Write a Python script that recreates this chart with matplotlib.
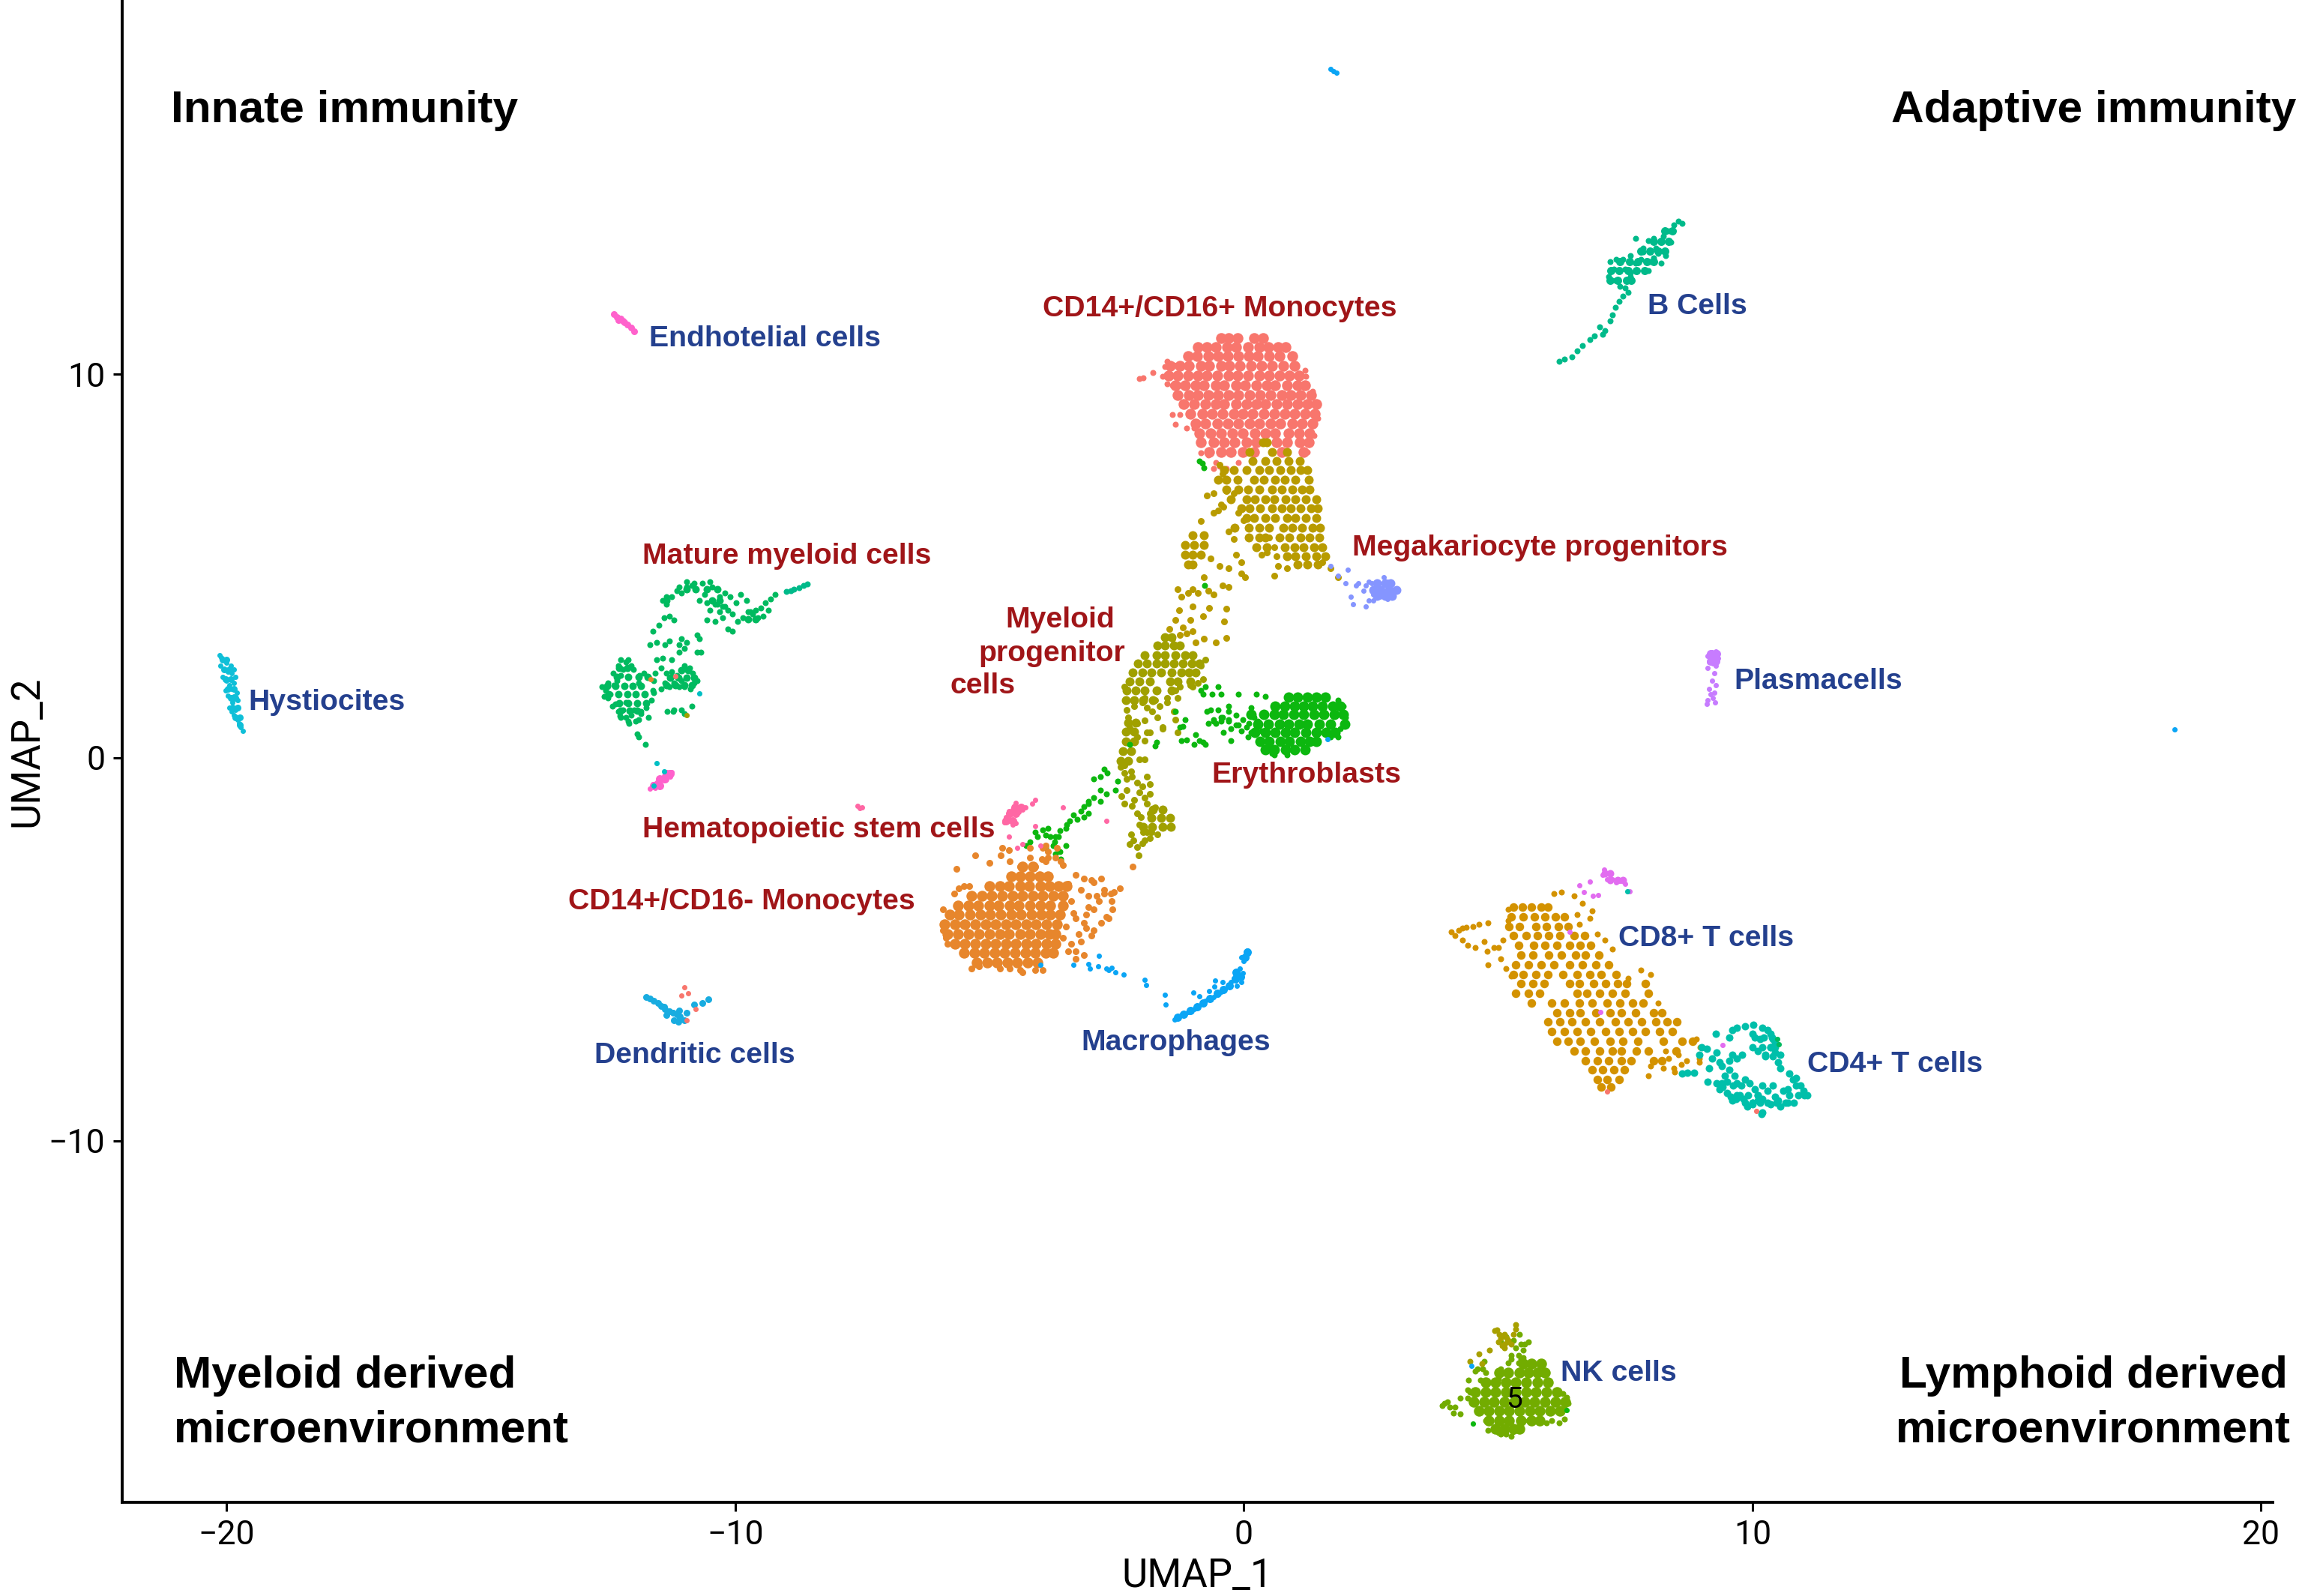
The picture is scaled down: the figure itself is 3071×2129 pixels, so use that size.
import matplotlib
matplotlib.use('Agg')
import matplotlib.pyplot as plt

plt.rcParams['font.family'] = ['Liberation Sans', 'DejaVu Sans']

# Cells, UMAP units.
# *_rows = packed part of a cluster, one (y, [x, x, ...]) per strip; *_x/*_y = the single loose cells.
mono16_rows = [
    (10.95, [-0.45,-0.3,-0.12,0.2,0.38]),
    (10.72, [-0.9,-0.72,-0.55,-0.33,-0.15,0.08,0.3,0.48,0.68,0.82]),
    (10.48, [-1.1,-0.92,-0.7,-0.5,-0.32,-0.1,0.1,0.28,0.5,0.7,0.95]),
    (10.22, [-1.45,-1.25,-1.08,-0.85,-0.68,-0.45,-0.28,-0.08,0.14,0.35,0.55,0.78,1.0]),
    (9.97, [-1.48,-1.3,-1.1,-0.9,-0.72,-0.52,-0.3,-0.12,0.08,0.3,0.5,0.7,0.9,1.08]),
    (9.72, [-1.35,-1.15,-0.95,-0.78,-0.55,-0.38,-0.15,0.02,0.25,0.45,0.62,0.85,1.05,1.2]),
    (9.47, [-1.3,-1.08,-0.9,-0.7,-0.5,-0.3,-0.1,0.12,0.32,0.52,0.75,0.92,1.12,1.32]),
    (9.22, [-1.18,-0.98,-0.75,-0.55,-0.38,-0.15,0.05,0.25,0.42,0.65,0.85,1.05,1.25,1.42]),
    (8.97, [-1.05,-0.82,-0.62,-0.42,-0.2,-0.02,0.18,0.4,0.6,0.8,1.0,1.2,1.4]),
    (8.72, [-0.95,-0.75,-0.52,-0.32,-0.1,0.12,0.3,0.52,0.72,0.95,1.15,1.35]),
    (8.47, [-0.88,-0.65,-0.45,-0.22,-0.02,0.22,0.42,0.62,0.88,1.08,1.3]),
    (8.22, [-0.85,-0.6,-0.38,-0.18,0.05,0.25,0.65,0.85,1.1,1.28]),
    (7.97, [-0.68,-0.45,-0.25,-0.02,0.2,0.75,1.18]),
]
mono16_x = [-2.05,-1.98,-1.78,-1.6,-1.55,-1.5,-1.38,-1.5,-1.4,-1.25,-1.4,-1.25,-1.35,-1.12,-0.98,-0.85,-0.7,-0.55,-0.6,-0.48,-0.35,-0.1,1.2,1.22,1.35,1.43,1.45,1.38,1.25]
mono16_y = [9.9,9.92,10.05,9.95,10.2,10.35,10.25,9.75,9.72,9.72,8.95,8.95,8.7,8.6,8.6,7.95,7.9,7.7,7.55,7.6,7.55,7.7,10.1,9.95,9.55,9.2,8.85,8.4,7.98]

gold_rows = [
    (8.22, [0.38,0.46]),
    (7.98, [0.12,0.55,0.85]),
    (7.75, [0.18,0.42,0.65,0.88,1.1]),
    (7.5, [-0.38,-0.2,0.05,0.3,0.5,0.72,0.92,1.12,1.25]),
    (7.25, [-0.5,-0.35,-0.12,0.2,0.4,0.62,0.8,1.02,1.28]),
    (7.0, [-0.35,-0.1,0.08,0.3,0.55,0.75,0.95,1.15,1.3]),
    (6.75, [-0.25,0.05,0.22,0.42,0.6,0.82,1.02,1.22,1.42]),
    (6.5, [-0.05,0.12,0.32,0.55,0.75,0.92,1.12,1.32,1.45]),
    (6.25, [0.05,0.2,0.42,0.62,0.85,1.02,1.22,1.42]),
    (6.0, [-0.18,0.1,0.3,0.5,0.78,0.95,1.15,1.35,1.5]),
    (5.75, [0.1,0.3,0.42,0.7,0.9,1.12,1.3,1.48]),
    (5.5, [0.25,0.45,0.8,1.0,1.18,1.38,1.55]),
    (5.25, [0.85,1.02,1.22,1.42,1.6]),
    (5.05, [1.05,1.25,1.45]),
    (5.8, [-1.0,-0.78]),
    (5.55, [-1.15,-0.98,-0.78]),
    (5.3, [-1.15,-1.0,-0.85]),
    (5.05, [-1.1,-1.0]),
]
gold_x = [-0.48,-0.42,-0.2,-0.35,0.6,0.35,1.55,1.7,1.85,-0.73,-0.6,-0.45,-0.1,0.0,0.5,0.45,0.65,0.68,0.85,0.6,
    -0.85,-0.6,-0.5,-0.4,-0.3,-0.2,-0.15,-0.05,-0.78,-0.65,-0.48,-0.3,-0.05,0.02,
    -1.3,-1.22,-1.1,-1.0,-0.9,-0.7,-0.6,-0.42,-0.3,-0.35,-0.38,-1.0,-0.8,-0.68,-1.27,-1.35,-1.2,-1.05,
    -1.46,-1.4,-1.25,-1.12,-1.0,-0.95,-0.78,-0.55,-0.35]
gold_y = [7.65,7.4,6.9,6.95,5.5,5.3,5.1,4.95,4.7,6.85,6.9,6.6,6.4,6.2,5.75,5.35,5.25,5.0,4.95,4.75,
    6.18,6.4,6.45,6.55,5.9,5.7,5.3,5.1,4.7,5.2,5.0,4.95,4.8,4.7,
    4.4,4.2,4.3,4.4,4.3,4.35,4.25,4.5,4.45,3.88,3.55,3.95,3.7,3.9,3.85,3.6,3.4,3.6,
    3.35,3.1,3.2,3.25,3.3,3.0,3.1,3.0,3.12]

olive_rows = [
    (3.15, [-1.55,-1.42]),
    (2.92, [-1.7,-1.55,-1.38,-1.25]),
    (2.68, [-1.95,-1.72,-1.55,-1.35,-1.15,-1.0]),
    (2.45, [-2.08,-1.9,-1.72,-1.55,-1.38,-1.2,-1.02,-0.88]),
    (2.22, [-2.18,-2.0,-1.82,-1.62,-1.42,-1.22,-1.08,-0.95]),
    (1.98, [-2.25,-2.05,-1.85,-1.45,-1.3,-1.05]),
    (1.75, [-2.3,-2.12,-1.95,-1.72,-1.42]),
    (1.5, [-2.32,-2.15,-1.98,-1.78]),
    (0.92, [-2.28,-2.12]),
    (0.68, [-2.32,-2.15]),
    (0.42, [-2.32,-2.15]),
    (0.18, [-2.38,-2.22]),
    (-0.08, [-2.42,-2.28]),
    (-1.35, [-1.78,-1.6]),
    (-1.58, [-1.82,-1.62,-1.45]),
    (-1.8, [-1.98,-1.8,-1.6,-1.44]),
]
olive_x = [-2.35,-2.3,-2.28,-2.15,-2.0,-1.9,-1.8,-1.75,-1.95,-1.7,-1.65,-1.5,-1.95,-1.85,-1.6,
    -0.85,-0.8,-0.95,-0.9,-0.75,-1.0,-1.25,-1.35,-1.3,-1.05,-1.5,-1.38,-1.35,-1.6,-1.3,
    -2.25,-2.1,-2.1,-1.95,-1.9,-2.35,-2.42,-2.35,-2.3,-2.22,-2.05,-1.95,-1.9,-1.85,
    -2.2,-2.1,-2.05,-2.0,-1.95,-1.9,-1.85,-2.3,-2.4,-2.35,-2.15,-2.2,-2.1,-2.05,
    -2.03,-1.85,-1.75,-1.9,-1.82,-1.7,-1.95,-1.85,-1.98,-2.0,-2.22,-2.17,-2.25,-2.1,-2.07]
olive_y = [1.85,1.25,1.05,1.35,1.45,1.3,1.2,1.5,0.98,1.05,1.35,1.45,1.55,0.65,0.8,
    2.4,2.05,2.2,1.95,2.55,1.85,1.85,1.75,1.55,1.9,1.55,1.2,1.0,0.75,0.65,
    0.78,0.9,0.55,0.45,0.65,-0.2,-0.25,-0.4,-0.55,-0.35,-0.05,-0.05,-0.5,-0.7,
    -0.5,-0.65,-0.9,-0.75,-1.05,-1.2,-0.95,-0.85,-1.0,-1.2,-1.1,-1.25,-1.45,-1.75,
    -1.55,-1.45,-1.3,-1.95,-1.95,-2.0,-2.15,-2.1,-1.95,-2.23,-2.0,-2.15,-2.26,-2.33,-2.55]

ery_rows = [
    (1.58, [0.88,1.05,1.25,1.42,1.6]),
    (1.35, [0.62,0.8,1.0,1.18,1.35,1.55,1.75,1.9]),
    (1.12, [0.15,0.4,0.6,0.78,0.98,1.18,1.38,1.58,1.78,1.95]),
    (0.88, [0.28,0.48,0.7,0.88,1.08,1.25,1.48,1.7,1.98]),
    (0.65, [0.22,0.42,0.62,0.82,1.0,1.22,1.42,1.62,1.8]),
    (0.42, [0.32,0.5,0.72,0.9,1.12,1.3,1.42]),
    (0.2, [0.42,0.6,0.82,1.0,1.2]),
]
ery_x = [-1.35,-1.15,-1.2,-1.25,-0.95,-1.22,-1.12,-0.97,-0.8,-0.88,-0.75,-0.7,-0.6,-0.55,-0.45,-0.3,-0.15,-0.05,-0.3,
    -0.72,-0.65,-0.5,-0.42,-0.3,-0.6,-0.45,-0.3,-0.15,-0.1,-0.02,0.1,-0.25,-0.4,-0.25,0.08,0.15,0.05,0.2,
    0.15,0.28,0.35,0.5,0.55,0.6,0.85,1.85,1.95,2.0,1.9,1.7,1.85,
    -0.75,-0.85,-0.8,-0.62,-0.5,0.25,0.42,-2.25,-1.75,-1.72,-0.1,-0.45]
ery_y = [1.2,1.0,0.82,0.8,0.6,0.45,0.47,0.35,0.4,0.45,0.35,0.9,1.0,0.9,0.95,0.95,0.85,0.7,1.35,
    1.2,1.25,1.25,1.05,1.2,0.95,1.05,1.0,1.1,0.85,1.0,0.9,0.75,0.65,0.45,0.55,0.65,0.8,1.05,
    1.3,0.95,0.7,0.3,0.12,0.08,0.08,1.5,1.35,1.05,0.75,0.55,0.55,
    1.85,1.75,1.65,1.65,1.85,1.65,1.6,0.35,0.3,0.4,1.65,1.65]
trail_x = [-2.75,-2.68,-2.82,-2.95,-2.48,-2.82,-2.7,-2.53,-2.95,-3.05,-2.82,-3.15,-3.05,-3.2,-3.35,-3.15,-3.05,-3.28,-3.42,-3.5,-3.62,
    -3.7,-3.85,-3.95,-4.1,-4.05,-3.9,-3.8,-3.65,-3.72,-3.48,-3.5,-3.75,-3.7,-3.6,-4.2,-4.28,-3.9,-3.62,-0.87,-0.82,-0.78,-0.77]
trail_y = [-0.3,-0.4,-0.5,-0.55,-0.62,-0.85,-0.95,-0.85,-1.05,-1.15,-1.15,-1.28,-1.2,-1.4,-1.5,-1.55,-1.45,-1.6,-1.65,-1.85,-1.9,
    -2.05,-1.85,-1.88,-1.95,-2.05,-2.02,-2.05,-2.05,-2.2,-1.75,-2.3,-2.3,-2.5,-2.65,-2.2,-2.3,-2.35,-2.45,7.75,7.68,7.56,4.49]

mono14_rows = [
    (-2.85, [-4.35,-4.15]),
    (-3.1, [-4.58,-4.4,-4.2,-4.02,-3.85]),
    (-3.35, [-5.0,-4.8,-4.62,-4.4,-4.22,-4.0,-3.82,-3.65,-3.48]),
    (-3.6, [-5.35,-5.15,-4.95,-4.75,-4.55,-4.35,-4.15,-3.95,-3.75,-3.55]),
    (-3.85, [-5.62,-5.42,-5.22,-5.0,-4.82,-4.6,-4.42,-4.2,-4.0,-3.8,-3.55]),
    (-4.1, [-5.78,-5.6,-5.38,-5.18,-4.98,-4.78,-4.58,-4.38,-4.18,-3.98,-3.8,-3.62]),
    (-4.35, [-5.88,-5.68,-5.48,-5.28,-5.08,-4.88,-4.68,-4.48,-4.28,-4.08,-3.88,-3.68]),
    (-4.6, [-5.82,-5.62,-5.42,-5.2,-5.0,-4.8,-4.62,-4.4,-4.2,-4.0,-3.82,-3.7]),
    (-4.85, [-5.68,-5.48,-5.28,-5.08,-4.88,-4.68,-4.48,-4.28,-4.08,-3.88,-3.7]),
    (-5.1, [-5.5,-5.3,-5.1,-4.9,-4.7,-4.5,-4.3,-4.1,-3.9,-3.75]),
    (-5.35, [-5.25,-5.05,-4.85,-4.65,-4.45,-4.25,-4.05]),
]
mono14_x = [-5.92,-5.92,-5.85,-5.82,-5.7,-5.6,-5.5,-5.4,-5.2,-5.35,-4.8,-4.6,-4.4,-4.35,-4.1,-3.95,
    -3.45,-3.3,-3.15,-3.0,-2.95,-2.8,-2.75,-3.2,-3.05,-2.9,-2.75,-2.62,-2.55,-2.6,-2.58,-2.85,-2.95,-3.1,-2.7,-2.65,-2.8,-3.1,-3.3,-2.95,-3.0,-3.25,-3.2,-3.45,-3.4,-3.35,-3.5,-3.55,-3.4,-3.05,-3.15,
    -2.44,-2.18,-3.15,-3.3,-3.3,-3.55,-3.6,-3.85,-3.9,-4.6,-5.28,-4.78,-4.62,-3.97,-3.85,-3.7,-3.67,-4.2,-4.1,-3.95,-4.75,-5.65,-5.0,-4.4,-4.2,-3.9]
mono14_y = [-3.95,-4.5,-4.7,-4.85,-3.55,-3.4,-3.35,-3.35,-5.45,-5.5,-5.5,-5.5,-5.55,-5.6,-5.55,-5.55,
    -3.3,-3.05,-3.15,-3.2,-3.25,-3.15,-3.45,-3.45,-3.6,-3.6,-3.55,-3.55,-3.5,-3.75,-3.95,-3.75,-3.95,-4.1,-4.15,-4.2,-4.3,-4.45,-4.2,-4.5,-4.65,-4.6,-4.8,-5.05,-3.75,-4.05,-4.4,-4.7,-4.85,-3.9,-4.3,
    -3.4,-2.85,-5.15,-5.25,-5.05,-2.8,-2.7,-2.6,-2.7,-2.7,-2.55,-2.55,-2.42,-2.65,-2.45,-2.6,-2.35,-2.6,-2.85,-2.35,-2.35,-2.9,-2.75,-2.85,-2.35,-2.3]

cd8_rows = [
    (-3.9, [5.3,5.48,5.65,5.85,5.98]),
    (-4.15, [5.25,5.5,5.72,5.92,6.12,6.3]),
    (-4.4, [5.22,5.42,5.75,5.95,6.18,6.38]),
    (-4.65, [5.3,5.55,5.78,6.0,6.22,6.5,6.7]),
    (-4.9, [5.4,5.7,5.92,6.15,6.4,6.62,6.82]),
    (-5.15, [5.45,5.68,6.0,6.25,6.52,6.72,6.98]),
    (-5.4, [5.35,5.6,5.85,6.1,6.4,6.65,6.92,7.18]),
    (-5.65, [5.3,5.5,5.75,5.98,6.28,6.55,6.8,7.02,7.32]),
    (-5.9, [5.45,5.68,5.9,6.4,6.6,6.88,7.12,7.35,7.52,7.9]),
    (-6.15, [5.35,5.6,5.82,6.55,6.75,7.0,7.25,7.5,7.95]),
    (-6.4, [5.65,6.05,6.3,6.6,6.85,7.15,7.4,7.65,7.85]),
    (-6.65, [6.15,6.4,6.62,6.92,7.2,7.42,7.7,8.05,8.22]),
    (-6.9, [5.98,6.22,6.45,6.72,7.0,7.3,7.55,7.82,8.1,8.32,8.52]),
    (-7.15, [6.05,6.3,6.55,6.82,7.12,7.38,7.65,7.9,8.18,8.42]),
    (-7.4, [6.15,6.38,6.62,6.9,7.2,7.45,7.75,8.25,8.62,8.82]),
    (-7.65, [6.5,6.72,7.0,7.25,7.42,7.72,7.95,8.5]),
    (-7.9, [6.72,6.95,7.18,7.42,7.62,8.05,8.22]),
    (-8.15, [6.85,7.05,7.28,7.48]),
    (-8.4, [6.95,7.15,7.38]),
    (-8.6, [7.02,7.22]),
]
cd8_x = [4.08,4.15,4.22,4.3,4.38,4.5,4.62,4.8,4.3,4.4,4.55,4.72,4.78,4.92,5.0,5.1,4.8,5.05,5.2,5.2,5.15,5.25,
    6.1,6.25,6.5,6.65,6.85,6.55,6.6,6.8,6.95,7.1,7.25,7.55,7.8,8.0,8.15,
    8.9,8.97,8.95,8.7,8.55,8.3,8.0,7.95,8.25,8.35,8.45,8.6,8.47,8.95]
cd8_y = [-4.55,-4.65,-4.5,-4.45,-4.42,-4.4,-4.35,-4.3,-4.75,-4.9,-4.95,-4.8,-5.05,-4.95,-4.95,-4.75,-5.4,-5.25,-4.25,-3.95,-5.5,-5.7,
    -3.55,-3.5,-3.6,-3.8,-4.0,-4.1,-4.35,-4.2,-4.6,-4.75,-5.0,-5.75,-5.55,-5.65,-6.4,
    -7.35,-7.55,-7.85,-7.9,-7.75,-7.65,-8.05,-8.3,-8.1,-7.85,-8.1,-8.0,-8.2,-7.95]

cd4_rows = [
    (-7.3, [10.05,10.22,10.38]),
    (-7.55, [10.2,10.35,10.45]),
    (-7.8, [10.25,10.4]),
    (-9.0, [9.85,10.0,10.15,10.3,10.48,10.65,10.82]),
    (-8.8, [9.75,9.92,10.1,10.72,10.9,11.02]),
]
cd4_x = [8.62,8.72,8.85,9.28,9.55,9.6,9.7,9.85,10.02,10.0,10.2,10.3,10.35,10.4,10.45,10.15,10.0,10.1,10.25,10.35,10.45,10.55,10.5,10.55,10.72,
    9.1,9.2,9.3,9.35,9.4,9.55,9.6,9.7,9.8,9.55,9.45,9.4,9.5,9.65,9.62,9.7,9.15,9.12,9.3,9.35,9.42,9.5,9.58,9.6,9.68,9.78,9.85,9.95,10.05,
    9.82,9.9,10.0,10.1,10.2,10.3,10.4,10.45,10.2,10.55,10.7,10.85,11.0,11.08,10.95,10.8,10.6,10.5,10.35,10.2,10.1,10.0,9.7,9.75,10.18,9.0,8.95,10.7,10.85]
cd4_y = [-8.24,-8.22,-8.23,-7.2,-7.3,-7.1,-7.05,-7.0,-6.96,-7.2,-7.05,-7.1,-7.2,-7.35,-7.45,-7.35,-7.55,-7.65,-7.75,-7.55,-7.7,-7.75,-7.95,-8.1,-8.25,
    -7.6,-7.85,-7.7,-7.95,-8.05,-7.9,-7.75,-7.85,-7.75,-8.15,-8.3,-8.5,-8.45,-8.3,-8.55,-8.8,-8.1,-8.45,-8.5,-8.65,-8.6,-8.75,-8.85,-8.95,-8.9,-8.55,-8.4,-8.5,-8.65,
    -8.9,-9.1,-9.0,-8.8,-8.55,-8.7,-8.55,-8.85,-9.25,-9.1,-9.0,-8.55,-8.7,-8.8,-8.55,-8.4,-8.7,-8.95,-9.05,-8.9,-8.95,-9.05,-8.5,-8.85,-9.3,-7.55,-7.75,-8.65,-8.35]
cd4_pink_rows = [(-3.02, [7.1,7.2]), (-3.2, [7.2,7.35,7.45])]
cd4_pink_x = [7.08,7.12,7.2,7.25,7.32,7.4,7.5,7.58,7.05,7.15,6.81,6.6,6.69,6.87,6.97,9.42,6.41,7.01]
cd4_pink_y = [-2.92,-3.02,-3.05,-3.18,-3.25,-3.22,-3.3,-3.48,-3.05,-3.18,-3.24,-3.34,-3.5,-3.61,-3.59,-7.49,-4.55,-6.63]

nk_rows = [
    (-15.82, [5.5,5.65,5.85]),
    (-16.05, [5.02,5.2,5.42,5.6,5.78,5.92]),
    (-16.3, [4.75,4.95,5.15,5.35,5.55,5.78,5.98]),
    (-16.55, [4.55,4.75,4.95,5.15,5.35,5.55,5.75,5.95,6.15]),
    (-16.8, [4.52,4.72,4.92,5.12,5.32,5.52,5.72,5.92,6.12,6.32]),
    (-17.05, [4.62,4.82,5.02,5.22,5.42,5.62,5.82,6.02,6.22]),
    (-17.3, [4.82,5.02,5.22,5.45,5.65,5.82]),
    (-17.52, [4.95,5.12,5.3,5.42]),
]
nk_x = [3.9,3.95,4.0,4.05,4.15,4.12,4.25,4.25,4.42,4.4,4.45,4.4,4.55,4.65,4.7,4.75,4.72,4.6,4.75,4.8,5.0,5.05,5.15,5.28,5.05,5.0,5.2,5.25,5.4,5.45,5.5,5.62,5.7,6.28,6.35,6.38,6.32,6.3,6.2,6.05,5.95,5.78,5.6,5.45,5.25,
    5.05,5.15,5.3,5.45,5.52,5.42,5.35,5.6,5.25,5.4,5.5]
nk_y = [-16.9,-16.85,-16.8,-16.95,-16.95,-17.1,-16.72,-17.13,-16.25,-16.5,-16.55,-16.72,-16.0,-16.25,-15.95,-16.05,-15.75,-15.95,-17.3,-17.55,-17.62,-17.65,-17.65,-17.6,-15.95,-16.2,-15.8,-15.6,-15.8,-15.7,-15.45,-15.8,-15.85,-16.6,-16.7,-16.85,-17.0,-17.25,-17.35,-17.3,-17.35,-17.3,-17.3,-17.55,-17.7,
    -15.25,-15.1,-15.2,-15.3,-15.3,-15.05,-15.4,-15.25,-15.7,-15.6,-15.65]
nk_gold_x = [4.93,4.97,5.02,5.05,5.0,5.12,5.17,5.13,5.08,5.18,5.3,5.35,5.25,5.12,4.83,4.62,4.44,4.68,5.35,5.2]
nk_gold_y = [-14.95,-14.93,-15.05,-15.15,-15.25,-15.05,-15.15,-15.3,-15.35,-15.25,-15.05,-14.92,-15.3,-15.4,-15.45,-15.55,-15.75,-15.82,-14.79,-15.2]

myel_rows = [
    (2.35, [-12.28,-12.12]),
    (2.1, [-12.32,-12.1,-11.9,-11.72]),
    (1.88, [-12.52,-12.35,-12.18,-12.02,-11.85]),
    (1.65, [-12.48,-12.3,-12.12,-11.95,-11.78]),
    (1.42, [-12.28,-12.1,-11.92,-11.75]),
    (1.22, [-12.25,-12.08,-11.92]),
    (2.28, [-11.05,-10.92]),
    (2.08, [-11.28,-11.12,-10.95,-10.8]),
    (1.9, [-11.35,-11.18,-11.0,-10.85]),
    (4.4, [-10.95,-10.78,-10.55,-10.35]),
    (4.1, [-11.35,-10.45,-10.3]),
    (3.62, [-9.75,-9.6]),
]
myel_x = [-12.62,-12.58,-12.55,-12.5,-12.5,-12.45,-12.38,-12.35,-12.32,-12.25,-12.2,-12.15,-12.1,-12.05,-12.0,-11.9,-11.88,-11.8,-11.7,-11.85,-11.9,-11.98,-11.7,-11.85,-11.75,-11.65,-11.62,-11.6,
    -12.05,-12.1,-11.95,-12.42,-12.3,-12.25,-12.2,-12.15,-12.3,-12.4,-12.25,
    -11.58,-11.45,-11.42,-11.55,-11.35,-11.25,-11.2,-11.15,-11.05,-11.0,-10.88,-10.8,-10.83,-10.9,-11.0,-10.75,-10.85,-11.1,-11.3,-11.38,-11.45,-11.6,
    -11.68,-11.55,-11.62,-11.5,-11.3,-11.38,-11.1,-11.0,-10.75,-10.95,-10.67,-11.25,-11.25,-11.1,-11.05,-10.75,-10.7,
    -11.4,-11.3,-11.2,-11.35,-11.42,-11.35,-11.25,-11.15,-11.05,-10.95,-10.85,-10.95,-11.1,-10.8,-10.65,-10.5,-10.45,-10.35,-10.3,-10.2,-10.1,-10.25,-10.4,-10.55,-10.6,-10.7,-10.5,-10.35,-10.2,-10.3,-10.55,-10.4,-10.05,-9.95,-10.25,-10.15,-9.85,-9.75,
    -9.7,-9.6,-9.5,-9.4,-9.3,-9.22,-9.65,-9.55,-9.45,-9.35,-9.78,-9.9,-9.98,-10.15,-10.05,
    -11.33,-11.22,-11.2,-11.05,-11.0,-10.85,-12.26,-12.15,-12.09,-11.92,-11.9,-11.77]
myel_y = [1.85,1.6,1.75,1.95,1.55,1.65,1.9,1.4,2.0,2.15,2.3,2.5,2.55,2.4,2.3,1.95,2.15,2.2,2.1,1.2,1.0,1.25,1.05,1.15,1.3,1.5,1.75,2.0,
    1.1,0.95,0.95,1.35,1.2,1.05,1.25,1.45,2.4,2.2,2.55,
    2.2,2.35,2.6,2.55,2.2,2.1,1.95,2.15,2.0,1.85,1.8,1.95,2.2,2.35,2.4,2.0,1.9,1.85,1.85,1.95,1.8,1.7,
    2.95,3.0,3.3,3.45,3.05,2.95,2.95,2.85,2.75,3.0,2.75,2.55,2.25,2.75,3.1,3.2,3.1,
    3.65,3.7,3.6,4.0,4.1,4.2,4.2,4.35,4.3,4.45,4.5,4.6,4.45,4.55,4.55,4.6,4.45,4.4,4.2,4.3,4.2,3.95,4.0,4.05,4.25,4.1,3.85,4.0,3.95,3.8,3.6,3.55,3.75,3.55,3.65,3.35,3.65,3.8,
    3.8,3.85,3.9,4.05,4.15,4.26,3.75,3.65,3.7,3.85,4.1,4.25,4.05,3.85,3.3,
    1.2,1.2,1.25,1.25,1.15,1.35,1.09,1.05,0.9,0.62,0.55,0.34]

bcell_rows = [
    (13.75, [8.28,8.42]),
    (13.48, [8.05,8.2,8.35]),
    (13.22, [7.8,7.98,8.15,8.28]),
    (12.95, [7.4,7.58,7.75,7.92,8.05]),
    (12.7, [7.22,7.38,7.55,7.72,7.88]),
    (12.45, [7.2,7.35,7.52,7.62]),
]
bcell_x = [6.2,6.3,6.45,6.55,6.65,6.8,6.9,7.0,7.05,7.1,7.2,7.25,7.3,7.38,7.45,7.5,7.4,7.55,7.6,7.28,7.2,7.18,7.3,7.38,7.5,7.6,7.7,7.8,7.85,7.95,8.05,8.1,8.2,8.25,8.35,8.45,8.55,8.62,8.4,8.3,8.2,8.05,7.95,7.85,7.7,7.6,7.45,7.32,8.0,8.15,-9.0,-8.9,-8.85,-8.75,-8.65,-8.58]
bcell_y = [10.34,10.4,10.45,10.62,10.75,10.9,11.0,11.25,11.05,11.15,11.4,11.55,11.75,11.9,12.05,12.25,12.3,12.15,12.55,12.75,12.95,12.55,12.45,12.7,12.75,12.65,12.9,13.0,13.2,12.7,13.05,13.3,13.45,13.6,13.75,13.9,14.0,13.95,13.45,13.1,12.9,13.55,13.5,13.3,13.55,13.1,13.0,13.0,12.95,13.15,4.33,4.36,4.4,4.43,4.5,4.53]
mac_fat_x = [-1.3,-1.18,-1.05,-0.92,-0.8,-0.66,-0.52,-0.4,-0.28,-0.17,-0.06,-0.15,0.02,0.07]
mac_fat_y = [-6.78,-6.7,-6.6,-6.5,-6.4,-6.28,-6.15,-6.05,-5.95,-5.78,-5.72,-5.6,-5.2,-5.08]
mac_x = [-3.35,-3.05,-3.03,-2.85,-2.87,-2.7,-2.65,-2.6,-2.52,-2.36,-1.95,-1.92,-1.55,-1.53,-1.36,-1.3,-1.22,-1.15,-1.1,-1.05,-0.98,-0.9,-0.82,-0.75,-0.68,-0.6,-0.52,-0.45,-0.38,-0.3,-0.25,-0.2,-0.16,-0.1,-0.05,-0.02,
    -0.08,-0.12,-0.2,-0.14,0.0,-0.05,0.04,0.07,0.09,-0.99,-0.87,-0.68,-0.57,-0.58,-0.42,-4.0]
mac_y = [-5.4,-5.38,-5.5,-5.17,-5.45,-5.5,-5.55,-5.48,-5.6,-5.66,-5.8,-5.93,-6.18,-6.44,-6.83,-6.78,-6.72,-6.67,-6.63,-6.6,-6.55,-6.5,-6.42,-6.35,-6.3,-6.25,-6.18,-6.1,-6.05,-5.98,-5.85,-5.75,-5.65,-5.72,-5.85,-5.62,
    -5.5,-5.6,-5.8,-5.95,-5.3,-5.2,-5.08,-5.04,-5.12,-6.12,-6.22,-6.08,-5.82,-5.98,-5.85,-5.4]
hist_rows = [(2.55, [-20.08,-20.0]), (2.3, [-20.05,-19.95]), (2.05, [-20.02,-19.92]), (1.8, [-19.98,-19.85]),
    (1.55, [-19.92,-19.82]), (1.3, [-19.88,-19.78]), (1.05, [-19.82,-19.74]), (0.85, [-19.74])]
hist_x = [-20.14,-20.1,-20.05,-20.0,-19.92,-19.85,-20.12,-20.05,-19.98,-19.9,-19.82,-20.08,-20.0,-19.95,-19.9,-19.85,-20.02,-19.98,-19.92,-19.88,-19.85,-19.8,-19.78,-19.95,-19.9,-19.85,-19.82,-19.78,-19.75,-19.72,-19.68]
hist_y = [2.68,2.62,2.55,2.48,2.4,2.3,2.4,2.3,2.25,2.2,2.1,2.1,2.0,1.9,1.8,1.95,1.75,1.62,1.55,1.45,1.6,1.7,1.5,1.3,1.2,1.1,1.25,1.0,0.9,0.8,0.7]
endo_x = [-12.38,-12.32,-12.25,-12.18,-12.12,-12.05,-11.98,-12.3,-12.2]
endo_y = [11.57,11.5,11.45,11.35,11.3,11.22,11.13,11.42,11.4]
mega_rows = [(4.55, [2.62,2.78,2.88]), (4.38, [2.55,2.7,2.85,3.0]), (4.22, [2.62,2.78,2.92])]
mega_x = [1.7,1.85,2.0,2.05,2.1,2.15,2.2,2.25,2.35,2.4,2.45,2.52,2.6,2.68,2.75,2.82,2.9,2.95,3.03,2.55,2.65,2.75,2.85,2.45,2.55,2.4]
mega_y = [5.0,4.75,4.55,4.9,4.2,4.0,4.5,4.55,4.35,4.5,4.1,4.55,4.5,4.2,4.55,4.15,4.4,4.3,4.37,4.25,4.35,4.7,4.6,4.6,4.1,3.95]
plasma_rows = [(2.72, [9.18,9.3]), (2.52, [9.18,9.28])]
plasma_x = [9.2,9.28,9.12,9.18,9.25,9.32,9.15,9.22,9.28,9.12,9.25,9.2,9.15,9.18,9.25,9.22,9.12,9.26,9.1,9.28,9.22]
plasma_y = [2.75,2.78,2.65,2.62,2.65,2.6,2.5,2.45,2.4,2.35,2.2,2.0,1.8,1.65,1.7,1.55,1.5,1.45,1.4,1.9,2.55]
den_x = [-11.75,-11.68,-11.6,-11.52,-11.45,-11.38,-11.3,-11.22,-11.15,-11.08,-11.0,-11.35,-11.2,-11.12,-11.08,-10.95,-10.8,-10.65,-10.53,-11.4,-11.1]
den_y = [-6.25,-6.28,-6.35,-6.4,-6.48,-6.55,-6.62,-6.65,-6.7,-6.75,-6.86,-6.72,-6.85,-6.9,-6.8,-6.65,-6.45,-6.4,-6.3,-6.5,-6.6]
den_red_x = [-11.05,-10.92,-11.0,-10.95,-10.78]
den_red_y = [-6.2,-6.15,-6.0,-6.85,-6.55]
stem_rows = [(-1.65, [-4.68,-4.55]), (-1.45, [-4.6,-4.48]), (-1.3, [-4.5,-4.38])]
stem_x = [-4.7,-4.68,-4.6,-4.62,-4.55,-4.5,-4.48,-4.42,-4.35,-4.3,-4.16,-4.1,-4.48,-4.55,-4.1,-3.55,-2.7,-4.62,-4.35,-4.45,-4.0,-7.6,-7.55,-7.5]
stem_y = [-1.68,-1.55,-1.6,-1.4,-1.35,-1.25,-1.18,-1.42,-1.35,-1.3,-1.2,-1.1,-1.7,-1.75,-1.78,-1.3,-1.65,-2.05,-2.25,-2.35,-2.3,-1.25,-1.32,-1.3]
endo2_rows = [(-0.72, [-11.6,-11.48]), (-0.55, [-11.48,-11.38]), (-0.42, [-11.35,-11.28])]
endo2_x = [-11.67,-11.62,-11.58,-11.55,-11.5,-11.45,-11.4,-11.35,-11.3,-11.25,-11.28,-11.62,-11.55,-11.48,-11.4]
endo2_y = [-0.8,-0.75,-0.78,-0.65,-0.62,-0.55,-0.48,-0.42,-0.38,-0.38,-0.5,-0.7,-0.75,-0.7,-0.6]
stray_x = [1.7,1.76,1.82,18.3,1.65,4.47]
stray_y = [17.98,17.92,17.88,0.73,0.49,-15.87]
# single cells sitting inside another cluster: (x, y, colour)
odd_cells = [(-11.66,2.04,'#E7862C'),(-11.17,2.12,'#F8766D'),(-10.7,1.67,'#00BFC4'),(-10.95,1.11,'#A0A000'),
    (7.54,-3.49,'#00BFAA'),(4.5,-17.38,'#0CB70F'),(6.35,-17.02,'#0CB70F'),(7.14,-8.71,'#F8766D'),(10.08,-9.21,'#F8766D'),
    (10.49,-7.35,'#00BA5F'),(10.52,-7.47,'#00BA5F'),(-11.55,-0.15,'#00BFC4'),(-11.4,-0.35,'#00BFC4'),(-11.6,-0.72,'#00BFC4')]

# text: (label, x, y)
red_labels = [('CD14+/CD16+ Monocytes', -3.95, 11.72), ('Mature myeloid cells', -11.83, 5.25),
    ('Megakariocyte progenitors', 2.14, 5.48), ('Myeloid', -4.68, 3.6), ('progenitor', -5.22, 2.72),
    ('cells', -5.77, 1.87), ('Erythroblasts', -0.63, -0.46), ('Hematopoietic stem cells', -11.83, -1.88),
    ('CD14+/CD16- Monocytes', -13.28, -3.76)]
blue_labels = [('Endhotelial cells', -11.69, 10.92), ('B Cells', 7.94, 11.76), ('Plasmacells', 9.64, 1.99),
    ('Hystiocites', -19.57, 1.45), ('CD8+ T cells', 7.36, -4.72), ('CD4+ T cells', 11.08, -8.01),
    ('Dendritic cells', -12.76, -7.78), ('Macrophages', -3.2, -7.44), ('NK cells', 6.23, -16.06)]

xticks = [-20, -10, 0, 10, 20]
yticks = [-10, 0, 10]

DOT = 26      # 7 px dot
fig = plt.figure(figsize=(30.71, 21.29), dpi=100)
ax = fig.add_axes([0.0531, 0.0587, 0.9342, 0.9413])


def draw_rows(rows, color, px):
    xs = [x for y, row in rows for x in row]
    ys = [y for y, row in rows for x in row]
    ax.scatter(xs, ys, s=(px * 0.72) ** 2, c=color, linewidths=0)


def draw_dots(x, y, color, px=7):
    ax.scatter(x, y, s=(px * 0.72) ** 2, c=color, linewidths=0)


draw_rows(mono16_rows, '#F8766D', 14.5)
draw_dots(mono16_x, mono16_y, '#F8766D', 8)
draw_rows(gold_rows, '#B89B00', 12)
draw_dots(gold_x, gold_y, '#B89B00', 9)
draw_rows(olive_rows, '#A0A000', 12)
draw_dots(olive_x, olive_y, '#A0A000', 9)
draw_rows(ery_rows, '#0CB70F', 14)
draw_dots(ery_x, ery_y, '#0CB70F', 8)
draw_dots(trail_x, trail_y, '#0CB70F', 8)
draw_rows(mono14_rows, '#E7862C', 14.5)
draw_dots(mono14_x, mono14_y, '#E7862C', 9)
draw_rows(cd8_rows, '#D39200', 11.5)
draw_dots(cd8_x, cd8_y, '#D39200', 8)
draw_rows(cd4_rows, '#00BFAA', 10)
draw_dots(cd4_x, cd4_y, '#00BFAA', 10)
draw_rows(cd4_pink_rows, '#E26CF0', 10)
draw_dots(cd4_pink_x, cd4_pink_y, '#E26CF0')
draw_rows(nk_rows, '#72AC00', 14.5)
draw_dots(nk_x, nk_y, '#72AC00', 8)
draw_dots(nk_gold_x, nk_gold_y, '#A8A000', 8)
draw_rows(myel_rows, '#00BA5F', 10)
draw_dots(myel_x, myel_y, '#00BA5F', 8)
draw_rows(bcell_rows, '#00BA8A', 11)
draw_dots(bcell_x, bcell_y, '#00BA8A', 8)
draw_dots(mac_fat_x, mac_fat_y, '#0AA5F5', 11)
draw_dots(mac_x, mac_y, '#0AA5F5')
draw_rows(hist_rows, '#0FBFD8', 9)
draw_dots(hist_x, hist_y, '#0FBFD8')
draw_dots(endo_x, endo_y, '#FF61CC', 9)
draw_rows(endo2_rows, '#FF61CC', 11)
draw_dots(endo2_x, endo2_y, '#FF61CC')
draw_rows(mega_rows, '#8595FF', 12)
draw_dots(mega_x, mega_y, '#8595FF')
draw_rows(plasma_rows, '#C77CFF', 11)
draw_dots(plasma_x, plasma_y, '#C77CFF')
draw_dots(den_x, den_y, '#18ACE0', 9)
draw_dots(den_red_x, den_red_y, '#F8766D')
draw_rows(stem_rows, '#FF67A4', 11)
draw_dots(stem_x, stem_y, '#FF67A4')
draw_dots(stray_x, stray_y, '#0AA5F5')
for x, y, color in odd_cells:
    ax.scatter([x], [y], s=DOT, c=color, linewidths=0)

ax.set_xlim(-22.05, 20.23)
ax.set_ylim(-19.43, 19.77)
ax.set_xticks(xticks)
ax.set_yticks(yticks)
ax.set_xticklabels([str(t).replace('-', '\u2212') for t in xticks], family='Roboto')
ax.set_yticklabels([str(t).replace('-', '\u2212') for t in yticks], family='Roboto')
ax.tick_params(length=8.5, width=2.2, labelsize=32, pad=8)
ax.set_xlabel('UMAP_1', fontsize=38, labelpad=6, family='Roboto')
ax.set_ylabel('UMAP_2', fontsize=38, labelpad=2, family='Roboto')
for side in ['top', 'right']:
    ax.spines[side].set_visible(False)
for side in ['left', 'bottom']:
    ax.spines[side].set_linewidth(2.8)

for label, x, y in red_labels:
    ax.text(x, y, label, color='#A01518', fontsize=28.3, fontweight='bold', va='center')
for label, x, y in blue_labels:
    ax.text(x, y, label, color='#24408E', fontsize=28.3, fontweight='bold', va='center')
ax.text(5.32, -16.75, '5', color='black', fontsize=28, ha='center', va='center', zorder=5, family='Roboto')

ax.text(-21.1, 16.89, 'Innate immunity', fontsize=43.5, fontweight='bold', va='center')
ax.text(12.73, 16.89, 'Adaptive immunity', fontsize=43.5, fontweight='bold', va='center', clip_on=False)
ax.text(-21.04, -16.13, 'Myeloid derived', fontsize=43.5, fontweight='bold', va='center')
ax.text(-21.04, -17.55, 'microenvironment', fontsize=43.5, fontweight='bold', va='center')
ax.text(16.7, -16.13, 'Lymphoid derived', fontsize=43.5, fontweight='bold', va='center', ha='center')
ax.text(16.7, -17.55, 'microenvironment', fontsize=43.5, fontweight='bold', va='center', ha='center')

fig.savefig('out.png', dpi=100)
